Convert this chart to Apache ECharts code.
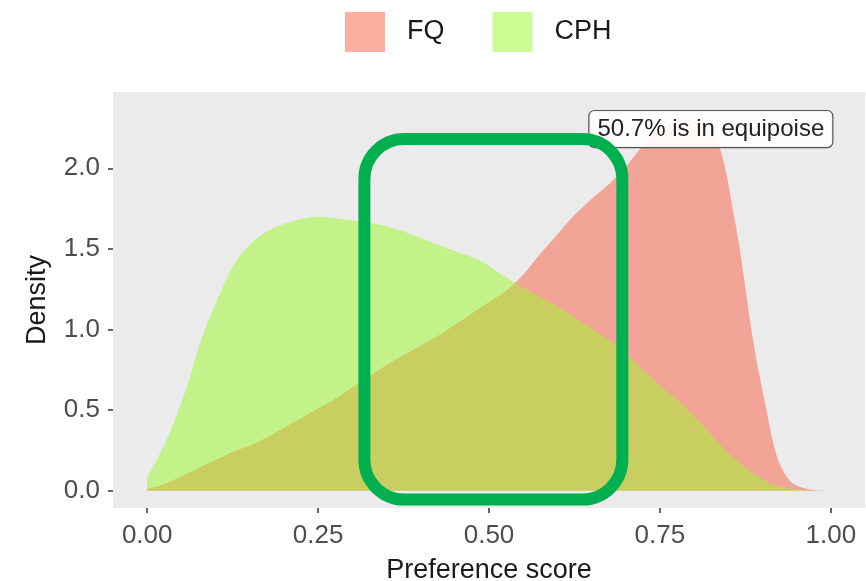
<!DOCTYPE html>
<html>
<head>
<meta charset="utf-8">
<script src="https://cdn.jsdelivr.net/npm/echarts@6/dist/echarts.min.js"></script>
<style>
  html, body { margin: 0; padding: 0; background: #ffffff; }
  #chart { width: 866px; height: 581px; }
</style>
</head>
<body>
<div id="chart"></div>
<script>
// Preference-score density estimates for the two treatment groups
const fqScore = [0.00, 0.025, 0.05, 0.075, 0.10, 0.125, 0.15, 0.175, 0.20, 0.225,
  0.25, 0.275, 0.30, 0.325, 0.35, 0.375, 0.40, 0.425, 0.45, 0.475,
  0.50, 0.525, 0.55, 0.575, 0.60, 0.625, 0.65, 0.675, 0.70, 0.725,
  0.75, 0.775, 0.80, 0.82, 0.837, 0.847, 0.856, 0.865, 0.872, 0.879,
  0.886, 0.895, 0.905, 0.915, 0.923, 0.932, 0.944, 0.961, 0.98, 1.00];
const fqDensity = [0.01, 0.04, 0.09, 0.14, 0.19, 0.24, 0.28, 0.33, 0.39, 0.45,
  0.51, 0.57, 0.64, 0.71, 0.78, 0.84, 0.90, 0.96, 1.03, 1.10,
  1.17, 1.24, 1.34, 1.47, 1.59, 1.71, 1.81, 1.90, 2.01, 2.14,
  2.24, 2.29, 2.30, 2.24, 2.13, 1.97, 1.76, 1.55, 1.35, 1.14,
  0.94, 0.73, 0.52, 0.31, 0.19, 0.11, 0.046, 0.015, 0.003, 0.0];

const cphScore = [0.000, 0.015, 0.033, 0.058, 0.077, 0.102, 0.131, 0.165, 0.204, 0.248,
  0.275, 0.302, 0.341, 0.38, 0.417, 0.442, 0.467, 0.49, 0.515, 0.53,
  0.55, 0.589, 0.62, 0.652, 0.687, 0.71, 0.735, 0.765, 0.794, 0.82,
  0.844, 0.87, 0.893, 0.912, 0.932, 0.96, 1.00];
const cphDensity = [0.08, 0.20, 0.36, 0.645, 0.91, 1.18, 1.43, 1.58, 1.66, 1.70,
  1.69, 1.675, 1.65, 1.60, 1.54, 1.50, 1.46, 1.42, 1.35, 1.31,
  1.26, 1.17, 1.09, 1.00, 0.90, 0.81, 0.71, 0.60, 0.49, 0.37,
  0.26, 0.16, 0.09, 0.045, 0.018, 0.005, 0.0];

const groupNames = ['FQ', 'CPH'];
const xTicks = [0, 0.25, 0.5, 0.75, 1];
const yTicks = [0, 0.5, 1, 1.5, 2];

// Equipoise band and its annotation
const equipoiseLabel = '50.7% is in equipoise';
const equipoiseLabelAt = [0.8245, 2.243];
const bandX = [0.3177, 0.695];
const bandY = [-0.055, 2.182];

const FONT = '"Liberation Sans", Arial, Helvetica, sans-serif';
const pairs = (xs, ys) => xs.map((x, i) => [x, ys[i]]);

const fqFill = 'rgba(249,95,65,0.5)';
const cphFill = 'rgba(157,249,41,0.5)';

const chart = echarts.init(document.getElementById('chart'), null, { renderer: 'canvas' });

chart.setOption({
  animation: false,
  backgroundColor: '#ffffff',
  textStyle: { fontFamily: FONT },
  grid: {
    left: 113, right: 1, top: 92, bottom: 73,
    outerBoundsMode: 'none',
    show: true, backgroundColor: '#ebebeb', borderWidth: 0
  },
  legend: {
    data: groupNames,
    left: 345, top: 12, padding: 0,
    itemWidth: 40, itemHeight: 40, itemGap: 48,
    icon: 'rect',
    textStyle: { fontSize: 27, color: '#1a1a1a', fontFamily: FONT, padding: [0, 0, 0, 17] }
  },
  xAxis: {
    type: 'value', min: -0.05, max: 1.05,
    name: 'Preference score', nameLocation: 'middle', nameGap: 49,
    nameTextStyle: { fontSize: 27, color: '#1a1a1a', fontFamily: FONT },
    axisLine: { show: false, onZero: false },
    axisTick: { show: true, length: 5, customValues: xTicks, lineStyle: { color: '#333333', width: 1.5 } },
    axisLabel: { customValues: xTicks, fontSize: 26, color: '#4d4d4d', margin: 15, fontFamily: FONT,
      formatter: v => v.toFixed(2) },
    splitLine: { show: false }
  },
  yAxis: {
    type: 'value', min: -0.107, max: 2.473,
    name: 'Density', nameLocation: 'middle', nameGap: 62, nameRotate: 90,
    nameTextStyle: { fontSize: 27, color: '#1a1a1a', fontFamily: FONT },
    axisLine: { show: false, onZero: false },
    axisTick: { show: true, length: 5, customValues: yTicks, lineStyle: { color: '#333333', width: 1.5 } },
    axisLabel: { customValues: yTicks, fontSize: 26, color: '#4d4d4d', margin: 13, fontFamily: FONT,
      formatter: v => v.toFixed(1) },
    splitLine: { show: false }
  },
  series: [
    {
      name: groupNames[0], type: 'line', data: pairs(fqScore, fqDensity),
      smooth: 0.3, symbol: 'none',
      lineStyle: { width: 1, color: fqFill, opacity: 0 },
      itemStyle: { color: fqFill },
      areaStyle: { color: fqFill, opacity: 1, origin: 0 }
    },
    {
      name: groupNames[1], type: 'line', data: pairs(cphScore, cphDensity),
      smooth: 0.3, symbol: 'none',
      lineStyle: { width: 1, color: cphFill, opacity: 0 },
      itemStyle: { color: cphFill },
      areaStyle: { color: cphFill, opacity: 1, origin: 0 },
      markPoint: {
        symbol: 'rect', symbolSize: 0, silent: true,
        data: [{ coord: equipoiseLabelAt, value: 0 }],
        label: {
          show: true, position: 'inside', formatter: equipoiseLabel,
          fontSize: 24, lineHeight: 26, color: '#222222', fontFamily: FONT,
          backgroundColor: 'rgba(255,255,255,0.92)', borderColor: '#555555', borderWidth: 1.2,
          borderRadius: 5, padding: [5, 8]
        }
      }
    }
  ]
});

// Rounded outline marking the equipoise band, placed in data coordinates
const p0 = chart.convertToPixel({ gridIndex: 0 }, [bandX[0], bandY[1]]);
const p1 = chart.convertToPixel({ gridIndex: 0 }, [bandX[1], bandY[0]]);
chart.setOption({
  graphic: [{
    type: 'rect', z: 100, silent: true,
    shape: { x: p0[0], y: p0[1], width: p1[0] - p0[0], height: p1[1] - p0[1], r: 40 },
    style: { fill: 'none', stroke: '#00b050', lineWidth: 12 }
  }]
});
</script>
</body>
</html>
